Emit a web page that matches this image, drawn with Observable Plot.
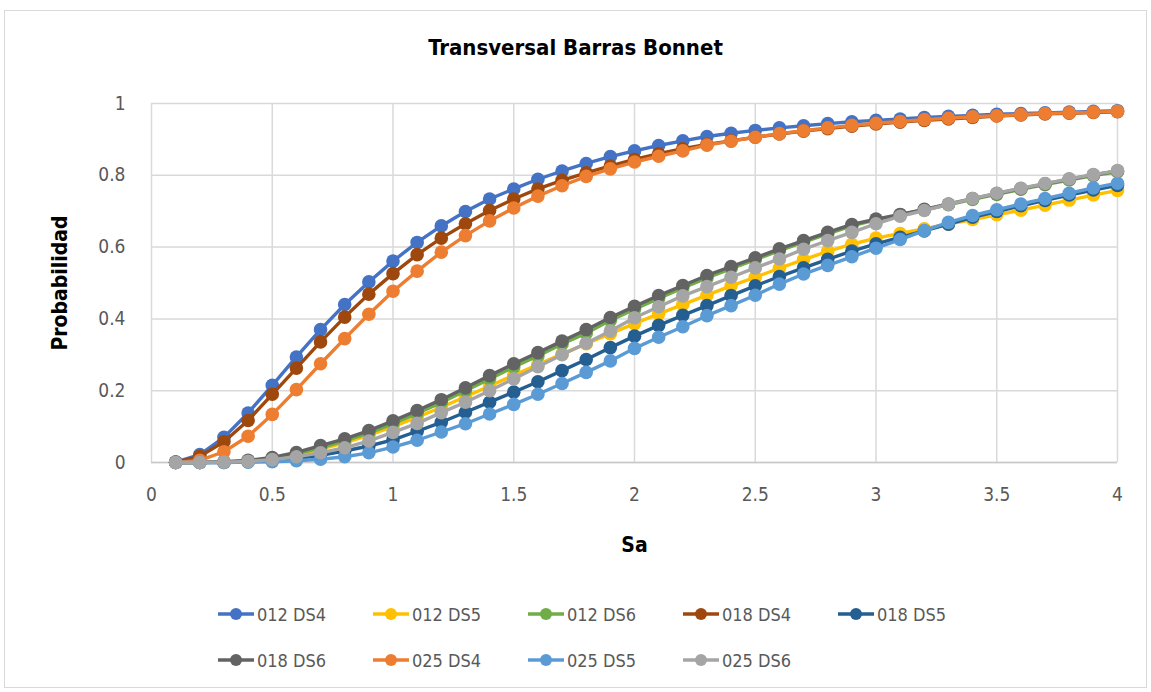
<!DOCTYPE html>
<html><head><meta charset="utf-8">
<script src="https://cdn.jsdelivr.net/npm/d3@7"></script>
<script src="https://cdn.jsdelivr.net/npm/@observablehq/plot@0.6"></script>
<style>
body{margin:0;background:#fff;}
#wrap{position:relative;width:1151px;height:692px;overflow:hidden;font-family:"DejaVu Sans",sans-serif;font-stretch:condensed;}
#frame{position:absolute;left:4px;top:10px;width:1141px;height:676px;border:1px solid #d9d9d9;}
#title{position:absolute;left:0;top:36px;width:1151px;text-align:center;font-weight:bold;font-size:22px;line-height:24px;color:#000;}
#chart{position:absolute;left:0;top:80px;}
.leg{position:absolute;display:flex;align-items:center;font-size:18px;color:#595959;white-space:nowrap;}
.leg svg{margin-right:3px;}
</style></head>
<body>
<div id="wrap">
  <div id="frame"></div>
  <div id="title">Transversal Barras Bonnet</div>
  <div id="chart"></div>
  <div id="legend"></div>
</div>
<script>
const sa = [0.1,0.2,0.3,0.4,0.5,0.6,0.7,0.8,0.9,1.0,1.1,1.2,1.3,1.4,1.5,1.6,1.7,1.8,1.9,2.0,2.1,2.2,2.3,2.4,2.5,2.6,2.7,2.8,2.9,3.0,3.1,3.2,3.3,3.4,3.5,3.6,3.7,3.8,3.9,4.0];

const s012DS4 = [0.001,0.022,0.070,0.138,0.215,0.294,0.370,0.440,0.503,0.561,0.613,0.659,0.699,0.734,0.762,0.789,0.812,0.833,0.852,0.868,0.883,0.896,0.908,0.917,0.925,0.932,0.938,0.944,0.949,0.953,0.957,0.961,0.964,0.967,0.970,0.972,0.974,0.976,0.978,0.980];
const s012DS5 = [0,0,0.001,0.004,0.011,0.022,0.037,0.055,0.076,0.100,0.126,0.154,0.183,0.213,0.243,0.273,0.302,0.331,0.359,0.387,0.414,0.440,0.466,0.492,0.516,0.541,0.565,0.588,0.608,0.625,0.638,0.651,0.664,0.677,0.690,0.703,0.717,0.731,0.745,0.758];
const s012DS6 = [0,0,0.001,0.005,0.012,0.024,0.041,0.060,0.082,0.108,0.137,0.167,0.200,0.233,0.266,0.297,0.330,0.360,0.396,0.427,0.457,0.486,0.514,0.540,0.565,0.590,0.614,0.637,0.659,0.676,0.690,0.704,0.718,0.733,0.747,0.761,0.774,0.787,0.799,0.810];
const s018DS4 = [0.001,0.017,0.058,0.117,0.190,0.263,0.336,0.405,0.469,0.526,0.579,0.625,0.665,0.702,0.734,0.762,0.786,0.807,0.826,0.844,0.860,0.874,0.886,0.896,0.906,0.915,0.923,0.930,0.937,0.943,0.948,0.953,0.957,0.961,0.965,0.968,0.971,0.973,0.975,0.977];
const s018DS5 = [0,0,0,0.002,0.005,0.011,0.020,0.032,0.046,0.063,0.087,0.112,0.140,0.168,0.196,0.225,0.256,0.287,0.320,0.352,0.382,0.410,0.437,0.465,0.492,0.518,0.542,0.566,0.589,0.609,0.627,0.645,0.664,0.683,0.699,0.715,0.730,0.745,0.759,0.772];
const s018DS6 = [0,0,0.002,0.006,0.014,0.028,0.047,0.066,0.089,0.116,0.145,0.175,0.208,0.242,0.275,0.306,0.338,0.370,0.404,0.435,0.465,0.493,0.521,0.546,0.570,0.595,0.618,0.641,0.663,0.678,0.691,0.705,0.720,0.735,0.749,0.763,0.776,0.789,0.801,0.812];
const s025DS4 = [0,0.006,0.030,0.073,0.134,0.203,0.275,0.345,0.413,0.477,0.533,0.586,0.632,0.673,0.709,0.742,0.771,0.797,0.818,0.837,0.853,0.868,0.884,0.895,0.906,0.916,0.924,0.932,0.939,0.945,0.950,0.955,0.959,0.963,0.966,0.969,0.972,0.974,0.976,0.978];
const s025DS5 = [0,0,0,0.001,0.002,0.005,0.009,0.016,0.027,0.043,0.062,0.085,0.108,0.135,0.162,0.190,0.220,0.251,0.283,0.318,0.349,0.378,0.409,0.437,0.466,0.497,0.525,0.549,0.573,0.597,0.621,0.646,0.669,0.688,0.704,0.720,0.735,0.750,0.765,0.778];
const s025DS6 = [0,0,0.001,0.003,0.008,0.016,0.027,0.041,0.060,0.084,0.109,0.139,0.168,0.200,0.233,0.267,0.300,0.332,0.366,0.403,0.434,0.464,0.490,0.516,0.542,0.567,0.594,0.618,0.641,0.665,0.686,0.702,0.719,0.735,0.750,0.764,0.777,0.790,0.802,0.813];

const seriesNames = ["012 DS4","012 DS5","012 DS6","018 DS4","018 DS5","018 DS6","025 DS4","025 DS5","025 DS6"];
const seriesValues = [s012DS4,s012DS5,s012DS6,s018DS4,s018DS5,s018DS6,s025DS4,s025DS5,s025DS6];
const seriesColors = ["#4472C4","#FFC000","#70AD47","#9E480E","#255E91","#636363","#ED7D31","#5B9BD5","#A5A5A5"];
const xTicks = [0,0.5,1,1.5,2,2.5,3,3.5,4];
const yTicks = [0,0.2,0.4,0.6,0.8,1];
const xLabel = "Sa";
const yLabel = "Probabilidad";

const FONT = '"DejaVu Sans",sans-serif';

const seriesMarks = [];
seriesNames.forEach((name, i) => {
  const rows = sa.map((x, j) => ({sa: x, p: seriesValues[i][j], serie: name}));
  seriesMarks.push(Plot.line(rows, {x: "sa", y: "p", stroke: seriesColors[i], strokeWidth: 3.4, curve: "linear"}));
  seriesMarks.push(Plot.dot(rows, {x: "sa", y: "p", r: 6.8, fill: seriesColors[i], stroke: "none"}));
});

const chart = Plot.plot({
  width: 1151,
  height: 510,
  marginLeft: 151,
  marginRight: 34,
  marginTop: 23,
  marginBottom: 128,
  style: {fontFamily: FONT, fontStretch: "condensed", fontSize: "18px", color: "#595959", background: "transparent", overflow: "visible"},
  x: {domain: [0, 4]},
  y: {domain: [0, 1]},
  marks: [
    Plot.gridX(xTicks, {stroke: "#d9d9d9", strokeOpacity: 1, strokeWidth: 1.5}),
    Plot.gridY(yTicks, {stroke: "#d9d9d9", strokeOpacity: 1, strokeWidth: 1.5}),
    Plot.ruleY([0], {stroke: "#c8c8c8", strokeWidth: 1.5}),
    Plot.axisX(xTicks, {tickSize: 0, tickPadding: 25, tickFormat: d => String(d), label: null, fontSize: 19}),
    Plot.axisY(yTicks, {tickSize: 0, tickPadding: 26, tickFormat: d => String(d), label: null, fontSize: 19}),
    ...seriesMarks,
    Plot.text([xLabel], {text: d => d, frameAnchor: "bottom", dy: 83, lineAnchor: "middle", textAnchor: "middle", fontWeight: "bold", fontSize: 21, fill: "#000"}),
    Plot.text([yLabel], {text: d => d, frameAnchor: "left", dx: -91, rotate: -90, lineAnchor: "middle", textAnchor: "middle", fontWeight: "bold", fontSize: 21, fill: "#000"})
  ]
});
document.getElementById("chart").appendChild(chart);

// legend
const legend = document.getElementById("legend");
const colX = [218, 373, 528, 683, 838];
const rowY = [614, 660];
seriesNames.forEach((name, i) => {
  const col = i % 5, row = Math.floor(i / 5);
  const item = document.createElement("div");
  item.className = "leg";
  item.style.left = colX[col] + "px";
  item.style.top = (rowY[row] - 10) + "px";
  item.style.height = "20px";
  item.innerHTML = `<svg width="36" height="16"><line x1="0" x2="36" y1="8" y2="8" stroke="${seriesColors[i]}" stroke-width="3.4"/><circle cx="18" cy="8" r="6" fill="${seriesColors[i]}"/></svg><span>${name}</span>`;
  legend.appendChild(item);
});
</script>
</body></html>
